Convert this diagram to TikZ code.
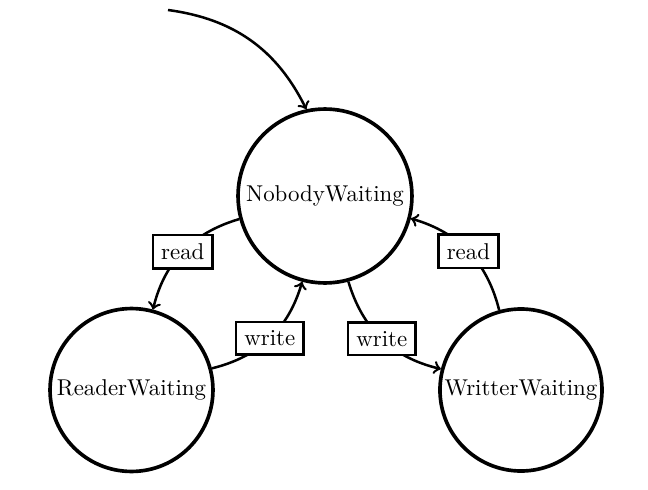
\documentclass[tikz,border=0pt]{standalone}
\usetikzlibrary{arrows}
\begin{document}
\begin{tikzpicture}[x=0.437pt,y=-0.437pt,
  state/.style={circle,draw,line width=1.6pt,inner sep=0pt},
  edge/.style={->,line width=1.1pt},
  lbl/.style={draw,fill=white,line width=1.1pt,inner xsep=3.6pt,inner ysep=3.8pt}]
\useasboundingbox (0,0) rectangle (648,490);
\node[state,minimum size=76pt] (N) at (325,196) {NobodyWaiting};
\node[state,minimum size=71.2pt] (R) at (131.5,390) {ReaderWaiting};
\node[state,minimum size=70.8pt] (W) at (521,390) {WritterWaiting};
\coordinate (s) at (168,10);
\draw[edge] (s) to[bend left=28] (N);
\draw[edge] (N) to[bend right=30] node[lbl] {read} (R);
\draw[edge] (R) to[bend right=30] node[lbl] {write} (N);
\draw[edge] (N) to[bend right=30] node[lbl] {write} (W);
\draw[edge] (W) to[bend right=30] node[lbl] {read} (N);
\end{tikzpicture}
\end{document}
